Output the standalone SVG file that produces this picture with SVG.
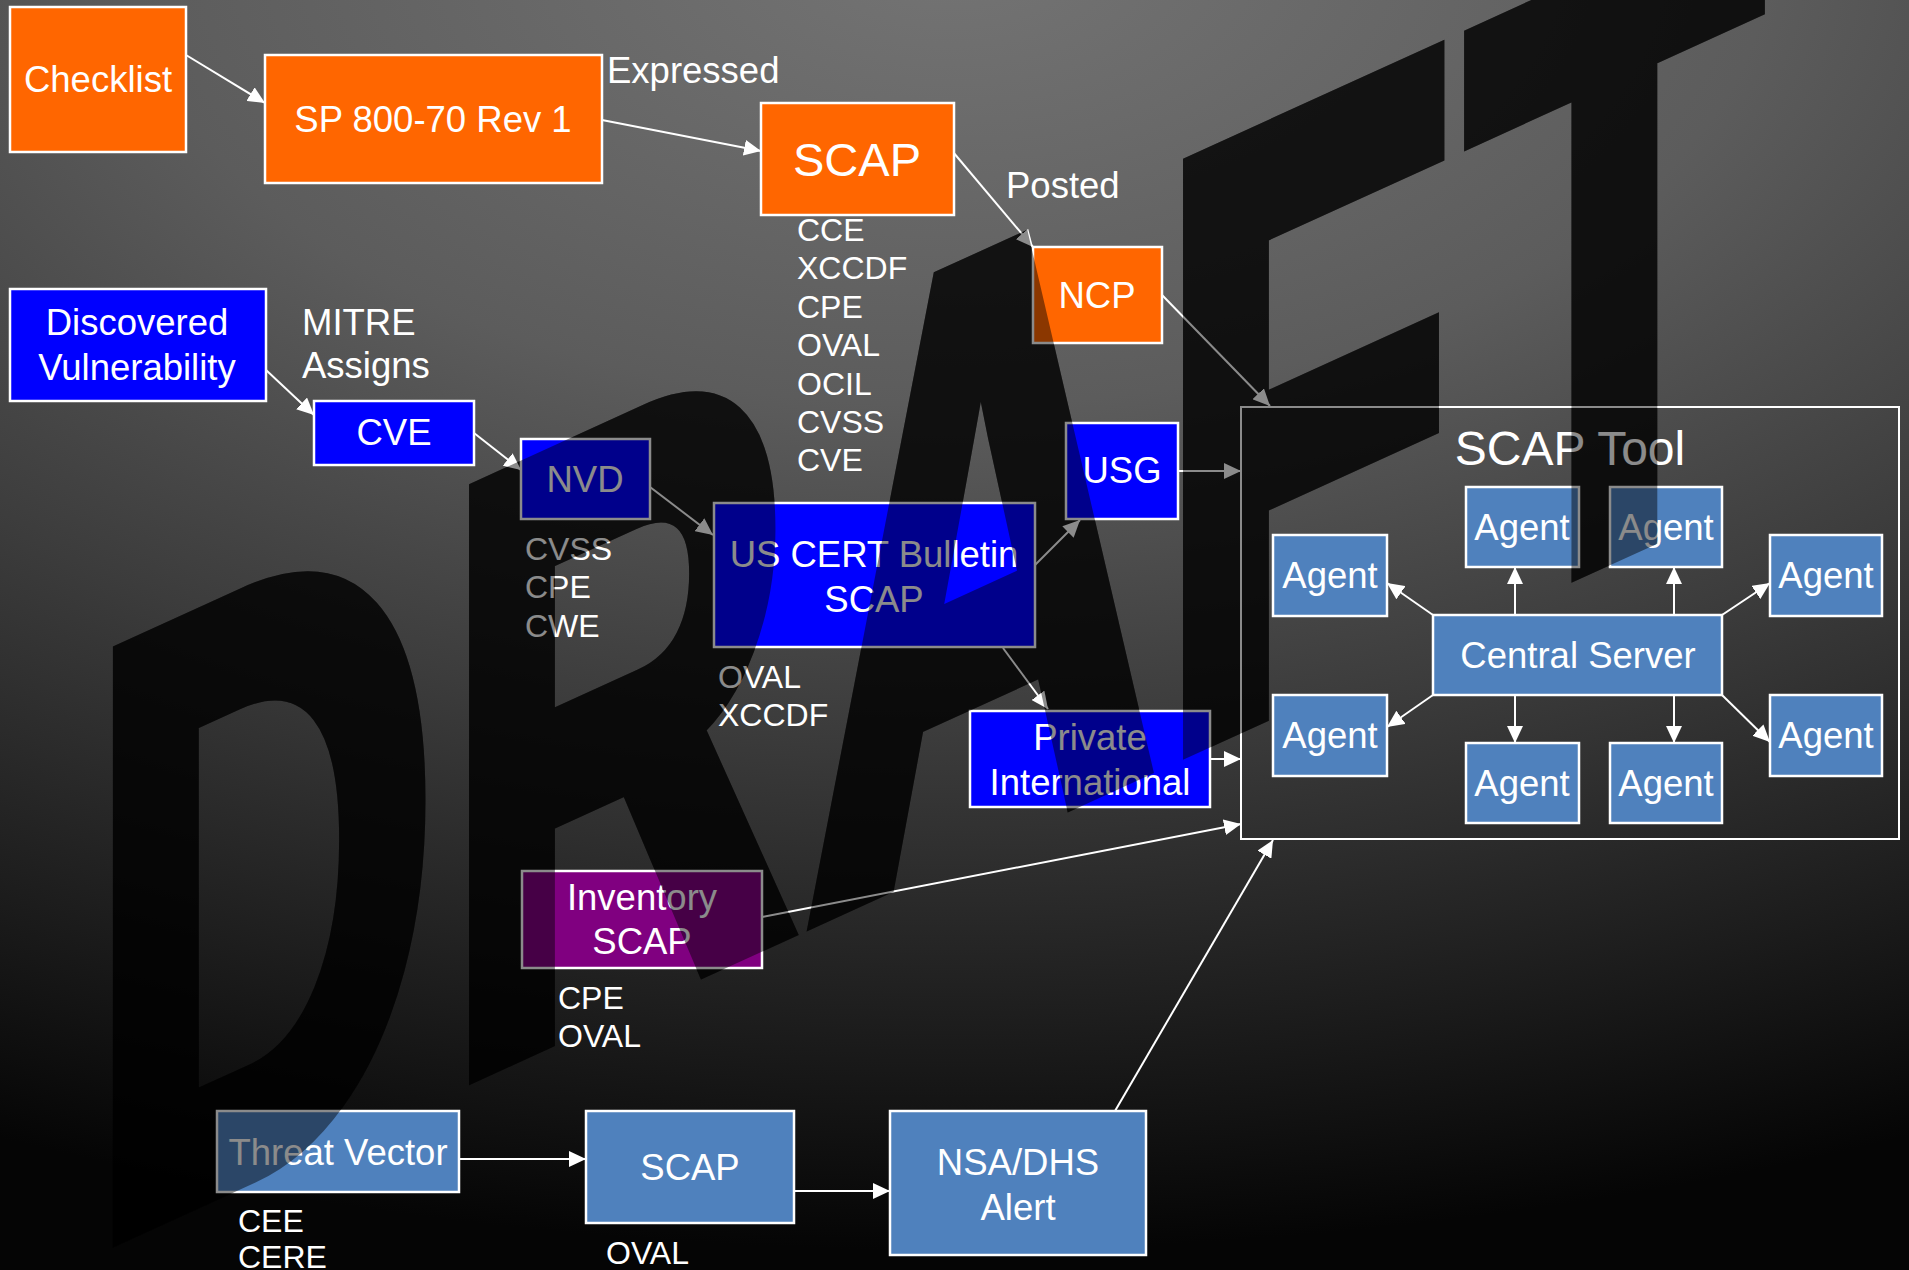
<svg xmlns="http://www.w3.org/2000/svg" xmlns:xlink="http://www.w3.org/1999/xlink" width="1909" height="1270" viewBox="0 0 1909 1270">
<defs>
<radialGradient id="bg" gradientUnits="userSpaceOnUse" cx="950" cy="-50" r="1300" gradientTransform="translate(950,-50) scale(1.8,1) translate(-950,50)">
<stop offset="0" stop-color="#747474"/>
<stop offset="0.35" stop-color="#5c5c5c"/>
<stop offset="0.6" stop-color="#3c3c3c"/>
<stop offset="1" stop-color="#050505"/>
</radialGradient>
<marker id="ah" markerUnits="userSpaceOnUse" markerWidth="18" markerHeight="16" refX="17" refY="8" orient="auto">
<path d="M0,0 L17,8 L0,16 z" fill="#fff"/>
</marker>
<text id="wm" transform="skewY(-24.5) scale(0.58,1)" y="1285" font-family="Liberation Sans, Arial, sans-serif" font-weight="bold" font-size="833" stroke-width="28" stroke-linejoin="miter"><tspan x="153">D</tspan><tspan x="767">R</tspan><tspan x="1390">A</tspan><tspan x="1998">F</tspan><tspan x="2529">T</tspan></text>
<style>
.n{stroke:#fff;stroke-width:2.5}
.or{fill:#ff6600}
.bl{fill:#0000ff}
.sb{fill:#4f81bd}
.pu{fill:#800080}
.t{font-family:"Liberation Sans",Arial,sans-serif;font-size:36.5px;fill:#fff;text-anchor:middle}
.l{font-family:"Liberation Sans",Arial,sans-serif;font-size:36.5px;fill:#fff}
.s{font-family:"Liberation Sans",Arial,sans-serif;font-size:32px;fill:#fff}
.c line{stroke:#fff;stroke-width:2;marker-end:url(#ah)}
</style>
</defs>
<rect x="0" y="0" width="1909" height="1270" fill="url(#bg)"/>

<g id="watermark-base" fill="#000" stroke="#000" opacity="0.66"><use xlink:href="#wm" href="#wm"/></g>

<g id="connectors" class="c">
<line x1="186" y1="55" x2="265" y2="103"/>
<line x1="602" y1="120" x2="761" y2="151"/>
<line x1="953" y1="152" x2="1033" y2="247"/>
<line x1="1162" y1="295" x2="1270" y2="406"/>
<line x1="266" y1="370" x2="314" y2="415"/>
<line x1="474" y1="433" x2="521" y2="470"/>
<line x1="650" y1="487" x2="713" y2="535"/>
<line x1="1035" y1="565" x2="1080" y2="520"/>
<line x1="1003" y1="648" x2="1048" y2="709"/>
<line x1="1178" y1="471" x2="1241" y2="471"/>
<line x1="1210" y1="759" x2="1241" y2="759"/>
<line x1="762" y1="917" x2="1241" y2="824"/>
<line x1="459" y1="1159" x2="586" y2="1159"/>
<line x1="794" y1="1191" x2="890" y2="1191"/>
<line x1="1115" y1="1111" x2="1273" y2="840"/>
<line x1="1515" y1="615" x2="1515" y2="567"/>
<line x1="1674" y1="615" x2="1674" y2="567"/>
<line x1="1433" y1="615" x2="1387" y2="583"/>
<line x1="1722" y1="615" x2="1770" y2="583"/>
<line x1="1433" y1="695" x2="1387" y2="727"/>
<line x1="1722" y1="695" x2="1770" y2="742"/>
<line x1="1515" y1="695" x2="1515" y2="743"/>
<line x1="1674" y1="695" x2="1674" y2="743"/>
</g>

<g id="labels">
<text class="l" x="607" y="83">Expressed</text>
<text class="l" x="1006" y="198">Posted</text>
<text class="l" x="302" y="335">MITRE</text>
<text class="l" x="302" y="378">Assigns</text>
<text class="s" x="797" y="241">CCE</text>
<text class="s" x="797" y="279.4">XCCDF</text>
<text class="s" x="797" y="317.8">CPE</text>
<text class="s" x="797" y="356.2">OVAL</text>
<text class="s" x="797" y="394.6">OCIL</text>
<text class="s" x="797" y="433">CVSS</text>
<text class="s" x="797" y="471.4">CVE</text>
<text class="s" x="525" y="560">CVSS</text>
<text class="s" x="525" y="598">CPE</text>
<text class="s" x="525" y="637">CWE</text>
<text class="s" x="718" y="688">OVAL</text>
<text class="s" x="718" y="726">XCCDF</text>
<text class="s" x="558" y="1009">CPE</text>
<text class="s" x="558" y="1047">OVAL</text>
<text class="s" x="238" y="1232">CEE</text>
<text class="s" x="238" y="1268">CERE</text>
<text class="s" x="606" y="1264">OVAL</text>
</g>

<g id="checklist"><rect class="n or" x="10" y="7" width="176" height="145"/><text class="t" x="98" y="92">Checklist</text></g>
<g id="sp800"><rect class="n or" x="265" y="55" width="337" height="128"/><text class="t" x="433" y="132">SP 800-70 Rev 1</text></g>
<g id="scap-top"><rect class="n or" x="761" y="103" width="193" height="112"/><text class="t" x="857" y="176" style="font-size:47px">SCAP</text></g>
<g id="ncp"><rect class="n or" x="1033" y="247" width="129" height="96"/><text class="t" x="1097" y="308">NCP</text></g>
<g id="discovered"><rect class="n bl" x="10" y="289" width="256" height="112"/><text class="t" x="137" y="335">Discovered</text><text class="t" x="137" y="380">Vulnerability</text></g>
<g id="cve"><rect class="n bl" x="314" y="401" width="160" height="64"/><text class="t" x="394" y="445">CVE</text></g>
<g id="nvd"><rect class="n bl" x="521" y="439" width="129" height="80"/><text class="t" x="585" y="492">NVD</text></g>
<g id="uscert"><rect class="n bl" x="714" y="503" width="321" height="144"/><text class="t" x="874" y="567">US CERT Bulletin</text><text class="t" x="874" y="612">SCAP</text></g>
<g id="usg"><rect class="n bl" x="1066" y="423" width="112" height="96"/><text class="t" x="1122" y="483">USG</text></g>
<g id="private"><rect class="n bl" x="970" y="711" width="240" height="96"/><text class="t" x="1090" y="750">Private</text><text class="t" x="1090" y="795">International</text></g>
<g id="inventory"><rect class="n pu" x="522" y="871" width="240" height="97"/><text class="t" x="642" y="910">Inventory</text><text class="t" x="642" y="954">SCAP</text></g>
<g id="threat"><rect class="n sb" x="217" y="1111" width="242" height="81"/><text class="t" x="338" y="1165">Threat Vector</text></g>
<g id="scap-bottom"><rect class="n sb" x="586" y="1111" width="208" height="112"/><text class="t" x="690" y="1180">SCAP</text></g>
<g id="nsa"><rect class="n sb" x="890" y="1111" width="256" height="144"/><text class="t" x="1018" y="1175">NSA/DHS</text><text class="t" x="1018" y="1220">Alert</text></g>

<g id="scap-tool"><rect x="1241" y="407" width="658" height="432" fill="none" stroke="#fff" stroke-width="2"/><text class="t" x="1570" y="465" style="font-size:48px">SCAP Tool</text></g>
<g id="central-server"><rect class="n sb" x="1433" y="615" width="289" height="80"/><text class="t" x="1578" y="668">Central Server</text></g>
<g id="agent1"><rect class="n sb" x="1466" y="487" width="113" height="80"/><text class="t" x="1522" y="540">Agent</text></g>
<g id="agent2"><rect class="n sb" x="1610" y="487" width="112" height="80"/><text class="t" x="1666" y="540">Agent</text></g>
<g id="agent3"><rect class="n sb" x="1273" y="535" width="114" height="81"/><text class="t" x="1330" y="588">Agent</text></g>
<g id="agent4"><rect class="n sb" x="1770" y="535" width="112" height="81"/><text class="t" x="1826" y="588">Agent</text></g>
<g id="agent5"><rect class="n sb" x="1273" y="695" width="114" height="81"/><text class="t" x="1330" y="748">Agent</text></g>
<g id="agent6"><rect class="n sb" x="1770" y="695" width="112" height="81"/><text class="t" x="1826" y="748">Agent</text></g>
<g id="agent7"><rect class="n sb" x="1466" y="743" width="113" height="80"/><text class="t" x="1522" y="796">Agent</text></g>
<g id="agent8"><rect class="n sb" x="1610" y="743" width="112" height="80"/><text class="t" x="1666" y="796">Agent</text></g>

<g id="watermark" fill="#000" stroke="#000" opacity="0.45"><use xlink:href="#wm" href="#wm"/></g>
</svg>
